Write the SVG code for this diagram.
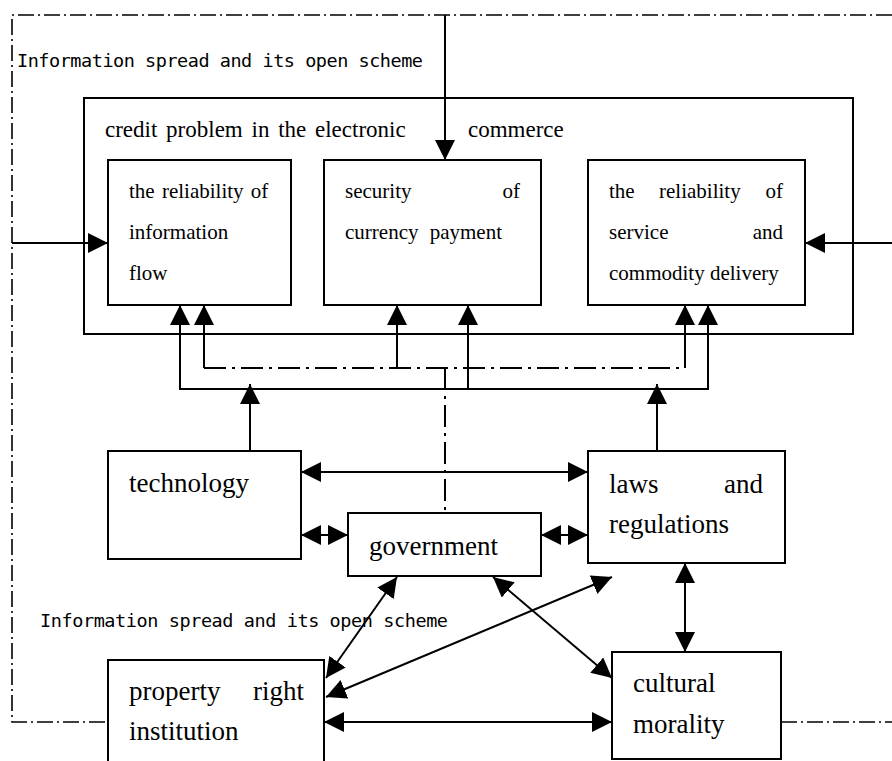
<svg xmlns="http://www.w3.org/2000/svg" width="892" height="761" viewBox="0 0 892 761">
<defs>
<marker id="ah" viewBox="0 0 20 20" refX="20" refY="10" markerWidth="20" markerHeight="20" markerUnits="userSpaceOnUse" orient="auto-start-reverse"><path d="M0,0 L20,10 L0,20 z" fill="#000"/></marker>
<style>
.box{fill:#fff;stroke:#000;stroke-width:2}
.ln{fill:none;stroke:#000;stroke-width:2}
.dd{fill:none;stroke:#000;stroke-width:1.6;stroke-dasharray:16 4 2 4}
.dd2{fill:none;stroke:#000;stroke-width:2;stroke-dasharray:22 6 3 6}
.arr{marker-end:url(#ah)}
.both{marker-start:url(#ah);marker-end:url(#ah)}
.t{font-family:"Liberation Serif","Times New Roman",serif;fill:#000}
.s21{font-size:21px}
.s23{font-size:23px}
.s27{font-size:27px}
.e{text-anchor:end}
.m{font-family:"DejaVu Sans Mono","Liberation Mono",monospace;font-size:18.5px;fill:#000}
</style>
</defs>
<g id="main">
<rect class="box" x="84" y="98" width="769" height="236"/>
<text class="t s23" x="105" y="137" word-spacing="3">credit problem in the electronic</text>
<text class="t s23" x="468" y="137">commerce</text>
</g>
<g id="info-reliability">
<rect class="box" x="108" y="160" width="183" height="145"/>
<text class="t s21" x="129" y="198" word-spacing="2">the reliability of</text>
<text class="t s21" x="129" y="239">information</text>
<text class="t s21" x="129" y="280">flow</text>
</g>
<g id="payment">
<rect class="box" x="324" y="160" width="217" height="145"/>
<text class="t s21" x="345" y="198">security</text>
<text class="t s21 e" x="520" y="198">of</text>
<text class="t s21" x="345" y="239" word-spacing="6">currency payment</text>
</g>
<g id="delivery">
<rect class="box" x="588" y="160" width="217" height="145"/>
<text class="t s21" x="609" y="198">the</text>
<text class="t s21" x="659" y="198">reliability</text>
<text class="t s21 e" x="783" y="198">of</text>
<text class="t s21" x="609" y="239">service</text>
<text class="t s21 e" x="783" y="239">and</text>
<text class="t s21" x="609" y="280">commodity delivery</text>
</g>
<g id="technology">
<rect class="box" x="108" y="451" width="193" height="108"/>
<text class="t s27" x="129" y="492">technology</text>
</g>
<g id="government">
<rect class="box" x="348" y="513" width="193" height="63"/>
<text class="t s27" x="369" y="555">government</text>
</g>
<g id="laws">
<rect class="box" x="588" y="451" width="197" height="112"/>
<text class="t s27" x="609" y="493">laws</text>
<text class="t s27 e" x="763" y="493">and</text>
<text class="t s27" x="609" y="533">regulations</text>
</g>
<g id="property">
<rect class="box" x="108" y="660" width="216" height="130"/>
<text class="t s27" x="129" y="700">property</text>
<text class="t s27 e" x="304" y="700">right</text>
<text class="t s27" x="129" y="740">institution</text>
</g>
<g id="culture">
<rect class="box" x="612" y="652" width="169" height="107"/>
<text class="t s27" x="633" y="692">cultural</text>
<text class="t s27" x="633" y="733">morality</text>
</g>
<g id="labels">
<text class="m" x="17" y="67" textLength="406">Information spread and its open scheme</text>
<text class="m" x="40" y="627" textLength="408">Information spread and its open scheme</text>
</g>
<g id="connectors">
<path class="dd" d="M892,15 H12 V722 H108"/>
<path class="dd" d="M781,722 H892"/>
<path class="ln arr" d="M445,15 V160"/>
<path class="ln arr" d="M12,243 H108"/>
<path class="ln arr" d="M892,243 H805"/>
<path class="ln both" d="M180,305 V389 H708 V305"/>
<path class="ln arr" d="M468,389 V305"/>
<path class="ln arr" d="M204,368 V305"/>
<path class="ln arr" d="M397,368 V305"/>
<path class="ln arr" d="M685,368 V305"/>
<path class="dd2" d="M204,368 H685"/>
<path class="dd2" d="M445,368 V513"/>
<path class="ln arr" d="M250,451 V384"/>
<path class="ln arr" d="M657,451 V384"/>
<path class="ln both" d="M301,472 H588"/>
<path class="ln both" d="M301,535 H348"/>
<path class="ln both" d="M541,535 H588"/>
<path class="ln both" d="M397,577 L326,678"/>
<path class="ln both" d="M493,577 L612,678"/>
<path class="ln both" d="M326,697 L612,577"/>
<path class="ln both" d="M685,563 V652"/>
<path class="ln both" d="M324,722 H612"/>
</g>
</svg>
